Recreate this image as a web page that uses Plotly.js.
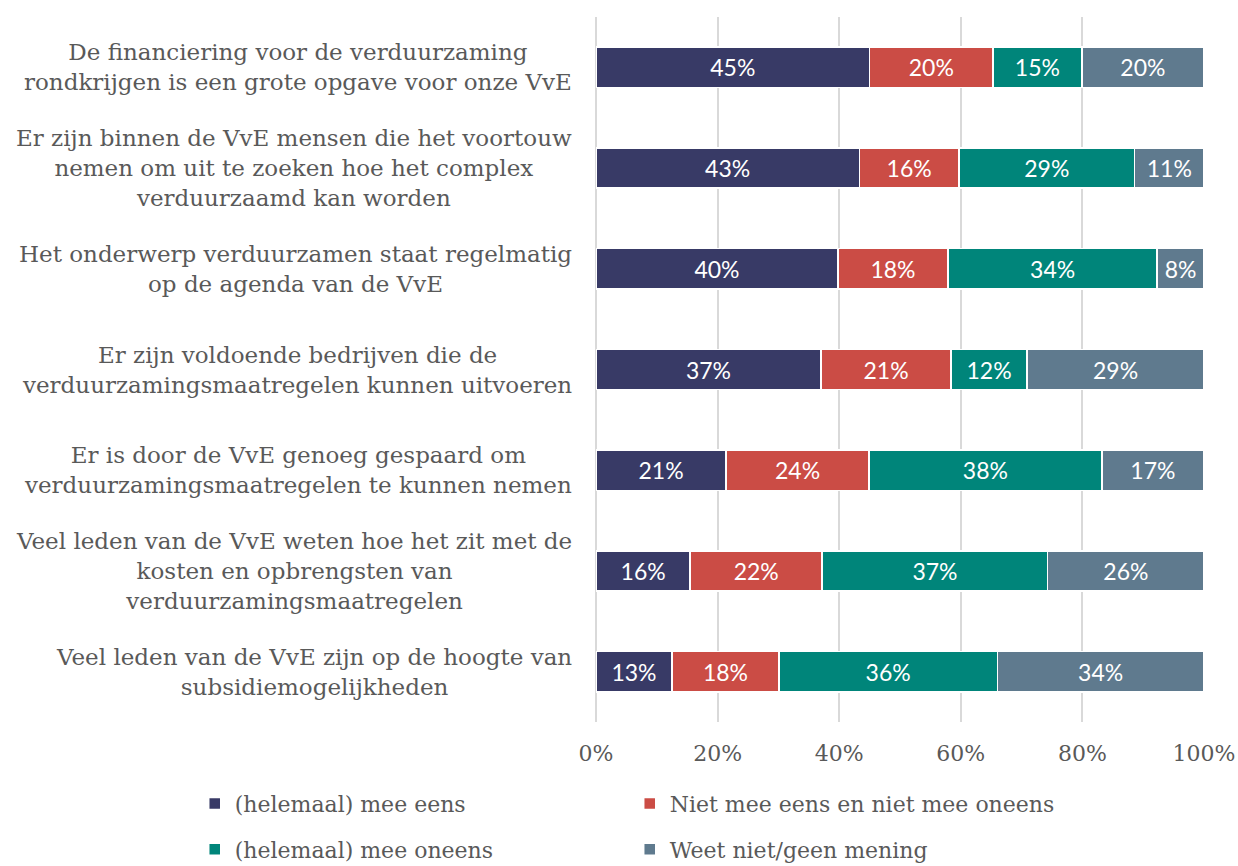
<!DOCTYPE html>
<html><head><meta charset="utf-8">
<script src="https://cdn.plot.ly/plotly-3.0.1.min.js"></script>
<style>html,body{margin:0;padding:0;background:#fff}#chart{width:1238px;height:866px}</style>
</head><body><div id="chart"></div>
<script>
const categories = [
  "De financiering voor de verduurzaming<br>rondkrijgen is een grote opgave voor onze VvE",
  "Er zijn binnen de VvE mensen die het voortouw<br>nemen om uit te zoeken hoe het complex<br>verduurzaamd kan worden",
  "Het onderwerp verduurzamen staat regelmatig<br>op de agenda van de VvE",
  "Er zijn voldoende bedrijven die de<br>verduurzamingsmaatregelen kunnen uitvoeren",
  "Er is door de VvE genoeg gespaard om<br>verduurzamingsmaatregelen te kunnen nemen",
  "Veel leden van de VvE weten hoe het zit met de<br>kosten en opbrengsten van<br>verduurzamingsmaatregelen",
  "Veel leden van de VvE zijn op de hoogte van<br>subsidiemogelijkheden"
];
const seriesNames = ["(helemaal) mee eens", "Niet mee eens en niet mee oneens", "(helemaal) mee oneens", "Weet niet/geen mening"];
const meeEens      = [45.0, 43.3, 39.8, 37.0, 21.4, 15.5, 12.5];
const neutraal     = [20.3, 16.4, 18.1, 21.4, 23.5, 21.7, 17.6];
const meeOneens    = [14.6, 28.9, 34.4, 12.5, 38.3, 37.1, 35.9];
const weetNiet     = [20.1, 11.4, 7.7, 29.1, 16.8, 25.7, 34.0];
const labelsMeeEens   = ["45%","43%","40%","37%","21%","16%","13%"];
const labelsNeutraal  = ["20%","16%","18%","21%","24%","22%","18%"];
const labelsMeeOneens = ["15%","29%","34%","12%","38%","37%","36%"];
const labelsWeetNiet  = ["20%","11%","8%","29%","17%","26%","34%"];
const xTickVals = [0, 20, 40, 60, 80, 100];
const xTickText = ["0%","20%","40%","60%","80%","100%"];

const colors = ["#383A66", "#CB4C45", "#00857A", "#5F7A8E"];
const values = [meeEens, neutraal, meeOneens, weetNiet];
const texts = [labelsMeeEens, labelsNeutraal, labelsMeeOneens, labelsWeetNiet];
const legendIds = ["legend", "legend", "legend2", "legend2"];
const ids = categories.map((c, i) => "c" + i);

const traces = values.map((v, k) => ({
  type: "bar", orientation: "h", name: seriesNames[k],
  x: v, y: ids, text: texts[k], textposition: "inside", insidetextanchor: "middle",
  texttemplate: "%{text}", hoverinfo: "skip",
  textfont: {family: "Lato, 'Open Sans', sans-serif", size: 23, color: "#ffffff"},
  marker: {color: colors[k], line: {color: "#ffffff", width: 1.5}},
  legend: legendIds[k]
}));

const annotations = categories.map((c, i) => ({
  xref: "paper", yref: "y", x: 0, y: ids[i], xanchor: "right", yanchor: "middle",
  xshift: -22, text: c, align: "center", showarrow: false,
  font: {family: "'DejaVu Serif', serif", size: 23, color: "#595959"}
}));

const legendFont = {family: "'DejaVu Serif', serif", size: 22, color: "#595959"};
const layout = {
  width: 1238, height: 866,
  margin: {l: 596, r: 34, t: 17, b: 144, autoexpand: false},
  paper_bgcolor: "#ffffff", plot_bgcolor: "#ffffff",
  barmode: "stack", bargap: 0.6,
  xaxis: {range: [0, 100], tickvals: xTickVals, ticktext: xTickText,
    showgrid: true, gridcolor: "#d9d9d9", gridwidth: 2,
    zeroline: true, zerolinecolor: "#d9d9d9", zerolinewidth: 2, showline: false,
    ticks: "", ticklabelstandoff: 16,
    tickfont: {family: "'DejaVu Serif', serif", size: 22, color: "#595959"}, fixedrange: true},
  yaxis: {categoryorder: "array", categoryarray: ids.slice().reverse(), showticklabels: false,
    showgrid: false, zeroline: false, showline: false, ticks: "", fixedrange: true},
  showlegend: true,
  legend: {orientation: "h", x: -0.66, xanchor: "left", y: -0.086, yanchor: "top",
    entrywidth: 390, entrywidthmode: "pixels", font: legendFont, traceorder: "normal",
    bgcolor: "rgba(0,0,0,0)", itemclick: false, itemdoubleclick: false},
  legend2: {orientation: "h", x: -0.66, xanchor: "left", y: -0.151, yanchor: "top",
    entrywidth: 390, entrywidthmode: "pixels", font: legendFont, traceorder: "normal",
    bgcolor: "rgba(0,0,0,0)", itemclick: false, itemdoubleclick: false},
  annotations: annotations
};
Plotly.newPlot("chart", traces, layout, {displayModeBar: false, staticPlot: true});
</script></body></html>
